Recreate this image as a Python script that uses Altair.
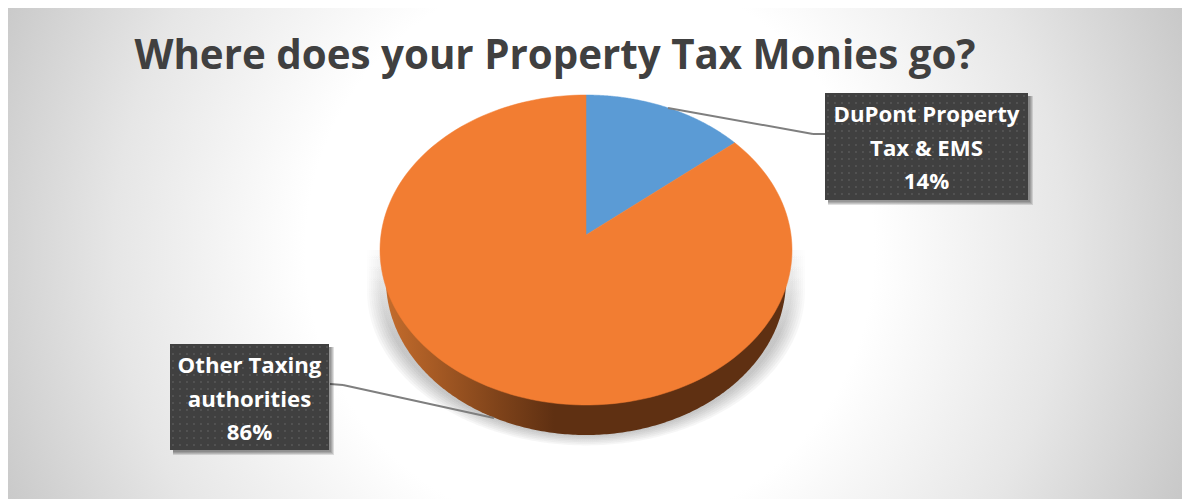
import math
import numpy as np
import pandas as pd
import altair as alt

# ---- values
categories = ["DuPont Property Tax & EMS", "Other Taxing authorities"]
shares = [0.14, 0.86]
slice_colors = ["#5B9BD5", "#F27D32"]
label_lines = [["DuPont Property", "Tax & EMS"], ["Other Taxing", "authorities"]]
title_text = "Where does your Property Tax Monies go?"

W, H, M = 1174, 491, 8
CX, CY, RX, RY = 586, 250, 206, 155
TILT = 0.097          # perspective shift of the pie's apex
DEPTH = 30

def px(v):
    return v - M

x_scale = alt.Scale(domain=[(M - CX) / RX, (M + W - CX) / RX], range=[0, W], nice=False, zero=False)
y_scale = alt.Scale(domain=[(CY - M - H) / RY, (CY - M) / RY], range=[H, 0], nice=False, zero=False)
X = alt.X("u:Q", scale=x_scale, axis=None)
Y = alt.Y("v:Q", scale=y_scale, axis=None)
Y2 = alt.Y2("v2:Q")

def persp(t):
    return 2 * math.atan(math.tan(t / 2) * math.sqrt((1 - TILT) / (1 + TILT)))

def wedge(a, b):
    pts = [(0, TILT)]
    for t in np.linspace(a, b, 160):
        th = persp(t) if t <= math.pi else 2 * math.pi - persp(2 * math.pi - t)
        pts.append((math.sin(th), math.cos(th)))
    pts.append((0, TILT))
    return pd.DataFrame({"u": [p[0] for p in pts], "v": [p[1] for p in pts], "i": range(len(pts))})

def lower(scale_x, scale_y, dy, floor=None):
    us = np.sin(np.linspace(-math.pi / 2, math.pi / 2, 241))
    vs = -scale_y * np.sqrt(np.clip(1 - us ** 2, 0, 1)) - dy / RY
    if floor is not None:
        vs = np.maximum(vs, -(floor - CY) / RY)
    return pd.DataFrame({"u": us * scale_x, "v": vs, "v2": 0.0})

def rect(x0, y0, x1, y1, **kw):
    return alt.Chart(pd.DataFrame({"a": [0]})).mark_rect(**kw).encode(
        x=alt.value(px(x0)), x2=alt.value(px(x1)), y=alt.value(px(y0)), y2=alt.value(px(y1)))

layers = []

# background
bg = alt.Gradient(gradient="radial", x1=0.5, y1=0.5, x2=0.5, y2=0.5, r1=0, r2=0.6, stops=[
    alt.GradientStop(offset=0.40, color="#ffffff"),
    alt.GradientStop(offset=0.67, color="#e6e6e6"),
    alt.GradientStop(offset=0.88, color="#cbcbcb"),
    alt.GradientStop(offset=1.0, color="#bdbdbd"),
])
layers.append(rect(-2, CY - 592, 1182, CY + 592, fill=bg, clip=True))

# soft shadow below the pie
for grow in range(1, 15, 2):
    shadow = alt.Gradient(gradient="linear", x1=0, y1=0, x2=0, y2=1, stops=[
        alt.GradientStop(offset=0, color="rgba(0,0,0,0.005)"),
        alt.GradientStop(offset=0.45, color="rgba(0,0,0,0.034)"),
        alt.GradientStop(offset=1, color="rgba(0,0,0,0.034)"),
    ])
    d = lower((RX + grow) / RX, 1, DEPTH + grow * 0.8, floor=446)
    layers.append(alt.Chart(d).mark_area(fill=shadow, clip=True).encode(x=X, y=Y, y2=Y2))

# side wall
wall = alt.Gradient(gradient="linear", x1=0, y1=0, x2=1, y2=0, stops=[
    alt.GradientStop(offset=0, color="#c46c2c"),
    alt.GradientStop(offset=0.28, color="#7f431a"),
    alt.GradientStop(offset=0.42, color="#5f3012"),
    alt.GradientStop(offset=1, color="#5f3012"),
])
layers.append(alt.Chart(lower(200 / RX, 1, DEPTH)).mark_area(fill=wall).encode(x=X, y=Y, y2=Y2))

# top of the pie
edges = np.cumsum([0] + shares) * 2 * math.pi
for c, a, b in zip(slice_colors, edges[:-1], edges[1:]):
    layers.append(alt.Chart(wedge(a, b)).mark_line(fill=c, stroke=c, strokeWidth=0.5).encode(
        x=X, y=Y, order=alt.Order("i:Q")))

# leader lines
for pts in [[(668, 108), (813, 134), (826, 134)], [(330, 384), (343, 385), (494, 418)]]:
    for (a, b), (c, d) in zip(pts[:-1], pts[1:]):
        layers.append(alt.Chart(pd.DataFrame({"a": [0]})).mark_rule(color="#7f7f7f", strokeWidth=2).encode(
            x=alt.value(px(a)), x2=alt.value(px(c)), y=alt.value(px(b)), y2=alt.value(px(d))))

# label boxes
boxes = [(825, 93, 1028, 200), (170, 344, 329, 450)]
for (x0, y0, x1, y1), lines, share in zip(boxes, label_lines, shares):
    for g in (3, 2, 1, 0):
        layers.append(rect(x0 + 3, y0 + 3, x1 + 2 + g, y1 + 2 + g, fill="#000000", opacity=0.12))
    layers.append(rect(x0, y0, x1, y1, fill="#404040"))
    dots = pd.DataFrame(
        [(px(a), px(b)) for a in np.arange(x0 + 3, x1 - 1, 7.0) for b in np.arange(y0 + 3, y1 - 1, 7.0)],
        columns=["x", "y"])
    layers.append(alt.Chart(dots).mark_square(size=3, color="#5c5c5c", opacity=1).encode(
        x=alt.X("x:Q", scale=None, axis=None), y=alt.Y("y:Q", scale=None, axis=None)))
    rows = lines + [f"{round(share * 100)}%"]
    txt = pd.DataFrame({"t": rows, "x": [px((x0 + x1) / 2)] * 3, "y": [px(y0 + 29 + 33.5 * i) for i in range(3)]})
    layers.append(alt.Chart(txt).mark_text(font="Open Sans", fontWeight="bold", fontSize=22.2, color="#ffffff",
                                           align="center", baseline="alphabetic").encode(
        x=alt.X("x:Q", scale=None, axis=None), y=alt.Y("y:Q", scale=None, axis=None), text="t:N"))

# title
layers.append(alt.Chart(pd.DataFrame({"t": [title_text]})).mark_text(
    font="Open Sans", fontWeight="bold", fontSize=40.3, color="#404040", align="center", baseline="alphabetic").encode(
    x=alt.value(px(555)), y=alt.value(px(69)), text="t:N"))

chart = alt.layer(*layers).resolve_scale(x="independent", y="independent").properties(
    width=W, height=H, padding=0, autosize=alt.AutoSizeParams(type="none"), background="#ffffff"
).configure_view(stroke=None)

chart.save("out.html", embed_options={"renderer": "svg", "actions": False})
